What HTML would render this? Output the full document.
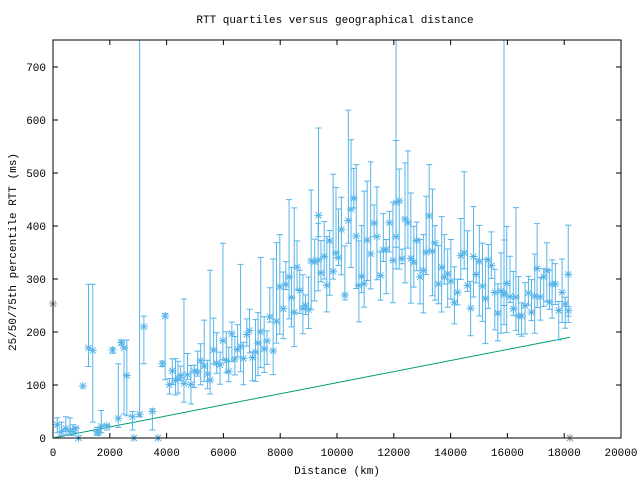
<!DOCTYPE html>
<html><head><meta charset="utf-8"><style>
body{margin:0;background:#fff}
svg text{font-family:"Liberation Mono","DejaVu Sans Mono",monospace;font-size:11px;fill:#000}
</style></head><body>
<svg id="s" width="640" height="480" xmlns="http://www.w3.org/2000/svg">
<rect width="640" height="480" fill="#fff"/>
<text x="335" y="23" text-anchor="middle">RTT quartiles versus geographical distance</text>
<text x="337" y="474" text-anchor="middle">Distance (km)</text>
<text transform="translate(16,252) rotate(-90)" text-anchor="middle">25/50/75th percentile RTT (ms)</text>
<g id="ax"></g>
<g id="data"></g>
<rect x="53" y="40" width="568" height="398" fill="none" stroke="#000" stroke-width="1"/>
</svg>
<script>
var NS="http://www.w3.org/2000/svg";
function px(x){return 53+x*0.0284}
function py(y){return 438-y*0.53}
function el(t,a,p){var e=document.createElementNS(NS,t);for(var k in a)e.setAttribute(k,a[k]);(p||document.getElementById('data')).appendChild(e);return e}
var ax=document.getElementById('ax');
for(var i=0;i<=20000;i+=2000){var X=px(i);el('line',{x1:X,y1:438,x2:X,y2:433,stroke:'#000'},ax);el('line',{x1:X,y1:40,x2:X,y2:45,stroke:'#000'},ax);var t=el('text',{x:X,y:456,'text-anchor':'middle'},ax);t.textContent=i;}
for(var j=0;j<=700;j+=100){var Y=py(j);el('line',{x1:53,y1:Y,x2:58,y2:Y,stroke:'#000'},ax);el('line',{x1:621,y1:Y,x2:616,y2:Y,stroke:'#000'},ax);var t=el('text',{x:46,y:Y+4,'text-anchor':'end'},ax);t.textContent=j;}
el('line',{x1:px(0),y1:py(0),x2:px(18200),y2:py(190),stroke:'#009e73','stroke-width':1});
var seed=11;function r(){seed=(seed*16807)%2147483647;return seed/2147483647}
var C='#56b4e9';
function star(x,y,c){var X=px(x),Y=py(y);var d='M'+(X-4)+' '+Y+'h8M'+X+' '+(Y-4)+'v8M'+(X-3)+' '+(Y-3)+'l6 6M'+(X-3)+' '+(Y+3)+'l6 -6';el('path',{d:d,stroke:c,'stroke-width':1,fill:'none'})}
function bar(x,lo,hi,c){var X=px(x);lo=Math.max(lo,0);hi=Math.min(hi,752);el('path',{d:'M'+X+' '+py(lo)+'V'+py(hi)+'M'+(X-3)+' '+py(lo)+'h6'+(hi<752?'M'+(X-3)+' '+py(hi)+'h6':''),stroke:c,'stroke-width':1,fill:'none'})}
var K=[[4000,125],[5000,130],[6000,160],[7000,175],[8000,240],[9000,300],[9500,330],[10500,390],[11500,380],[12500,375],[13500,350],[14500,300],[15500,290],[16500,270],[17500,290],[18200,300]];
function med(x){for(var i=0;i<K.length-1;i++){if(x<=K[i+1][0]){var f=(x-K[i][0])/(K[i+1][0]-K[i][0]);return K[i][1]+f*(K[i+1][1]-K[i][1])}}return 300}
var pts=[];
for(var x=4100;x<18150;x+=85+r()*40){
 var m=med(x);var v=m*(0.8+r()*0.4);
 if(x<8000&&r()<0.2)v=m*(0.85+r()*0.3)-40;
 if(x>9000&&x<11000&&r()<0.25)v=m*(0.7+r()*0.1);
 var lo=v-(8+r()*v*0.3),hi=v+(10+r()*v*0.35);
 if(r()<0.15){hi=v+80+r()*130}
 pts.push([x,v,lo,hi]);
}
[[150,25,10,38],[300,12,5,30],[450,18,5,40],[600,12,5,38],[700,15,5,25],[800,18,10,20],[900,0,0,0],[1050,98,98,98],[1250,170,135,290],[1400,165,30,290],[1550,12,5,20],[1600,10,8,15],[1700,22,10,52],[1900,23,15,25],[2100,166,160,170],[2300,37,20,140],[2400,180,175,185],[2500,170,45,185],[2600,118,42,185],[2800,40,15,50],[2850,0,0,0],[3050,45,40,752],[3200,210,140,230],[3500,50,15,55],[3700,0,0,0],[3850,140,135,145],[3950,230,110,235]].forEach(function(p){pts.push(p)});
pts.push([12080,380,360,752]);pts.push([15880,270,250,752]);
pts.push([9350,420,380,585]);
pts.push([18150,240,230,248]);
pts.forEach(function(p){bar(p[0],p[2],p[3],C);star(p[0],p[1],C)});
star(0,253,'#999');star(18200,0,'#999');
</script>
</body></html>
